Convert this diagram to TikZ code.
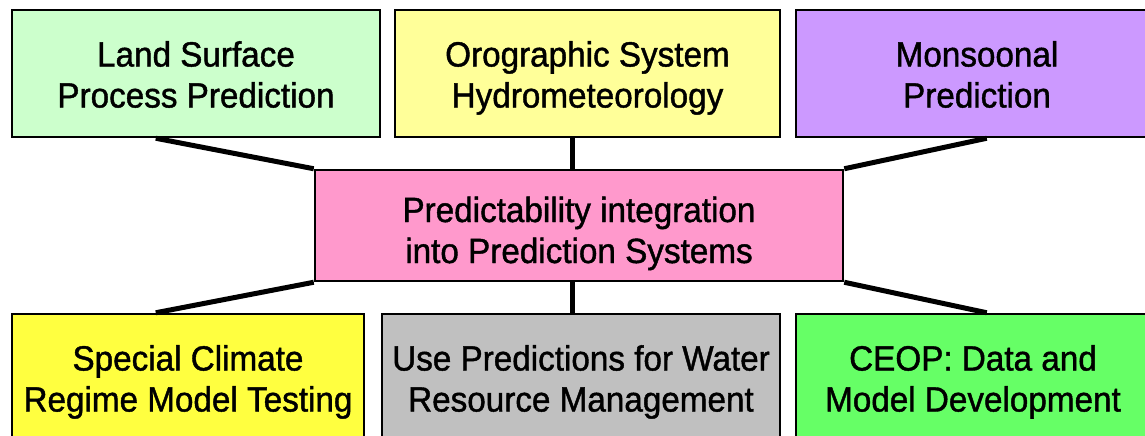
\documentclass[tikz,border=0pt]{standalone}
\usepackage{fontspec}
\setmainfont{Liberation Sans}[FakeStretch=0.95, FakeBold=1.2]
\usetikzlibrary{positioning}

\definecolor{landgreen}{HTML}{CCFFCC}
\definecolor{oroyellow}{HTML}{FFFF99}
\definecolor{monpurple}{HTML}{CC99FF}
\definecolor{predpink}{HTML}{FF99CC}
\definecolor{climyellow}{HTML}{FFFF40}
\definecolor{watergray}{HTML}{C0C0C0}
\definecolor{ceopgreen}{HTML}{66FF66}

% fixed line heights, so every box sets its two lines alike
\newcommand{\tline}[1][37pt]{\rule{0pt}{#1}}
\newcommand{\bline}{\rule[-10pt]{0pt}{10pt}}

\tikzset{
  topicbox/.style={draw, line width=2.5pt, align=center, inner sep=0pt,
    minimum height=127pt, font=\fontsize{35}{41}\selectfont},
  link/.style={line width=5pt}
}

\begin{document}
\begin{tikzpicture}[x=1pt, y=-1pt]
\useasboundingbox (0,0) rectangle (1145,436);
\clip (0,0) rectangle (1145,436);

\node[topicbox, fill=predpink, minimum width=528pt, minimum height=111pt] (pred) at (579,225.5) {\tline[44pt]Predictability integration\\into Prediction Systems\bline};

\node[topicbox, fill=landgreen, minimum width=368pt] (lsp) at (196,73.5) {\tline Land Surface\\Process Prediction\bline};
\node[topicbox, fill=oroyellow, minimum width=385pt] (ohy) at (587.5,73.5) {\tline Orographic System\\Hydrometeorology\bline};
\node[topicbox, fill=monpurple, minimum width=362pt] (mon) at (977,73.5) {\tline Monsoonal\\Prediction\bline};

\node[topicbox, fill=climyellow, minimum width=352pt] (scr) at (188,377.5) {\tline Special Climate\\Regime Model Testing\bline};
\node[topicbox, fill=watergray, minimum width=398pt] (wrm) at (581,377.5) {\tline Use Predictions for Water\\Resource Management\bline};
\node[topicbox, fill=ceopgreen, minimum width=354pt] (ceop) at (973,377.5) {\tline CEOP: Data and\\Model Development\bline};

\path[draw,link] ([xshift=145pt]lsp.south west) -- (pred.north west);
\path[draw,link] ([xshift=-7pt]pred.north) -- ([xshift=-7pt]pred.north |- ohy.south);
\path[draw,link] ([xshift=192pt]mon.south west) -- (pred.north east);

\path[draw,link] (pred.south west) -- ([xshift=145pt]scr.north west);
\path[draw,link] ([xshift=-7pt]pred.south) -- ([xshift=-7pt]pred.south |- wrm.north);
\path[draw,link] (pred.south east) -- ([xshift=192pt]ceop.north west);
\end{tikzpicture}
\end{document}
